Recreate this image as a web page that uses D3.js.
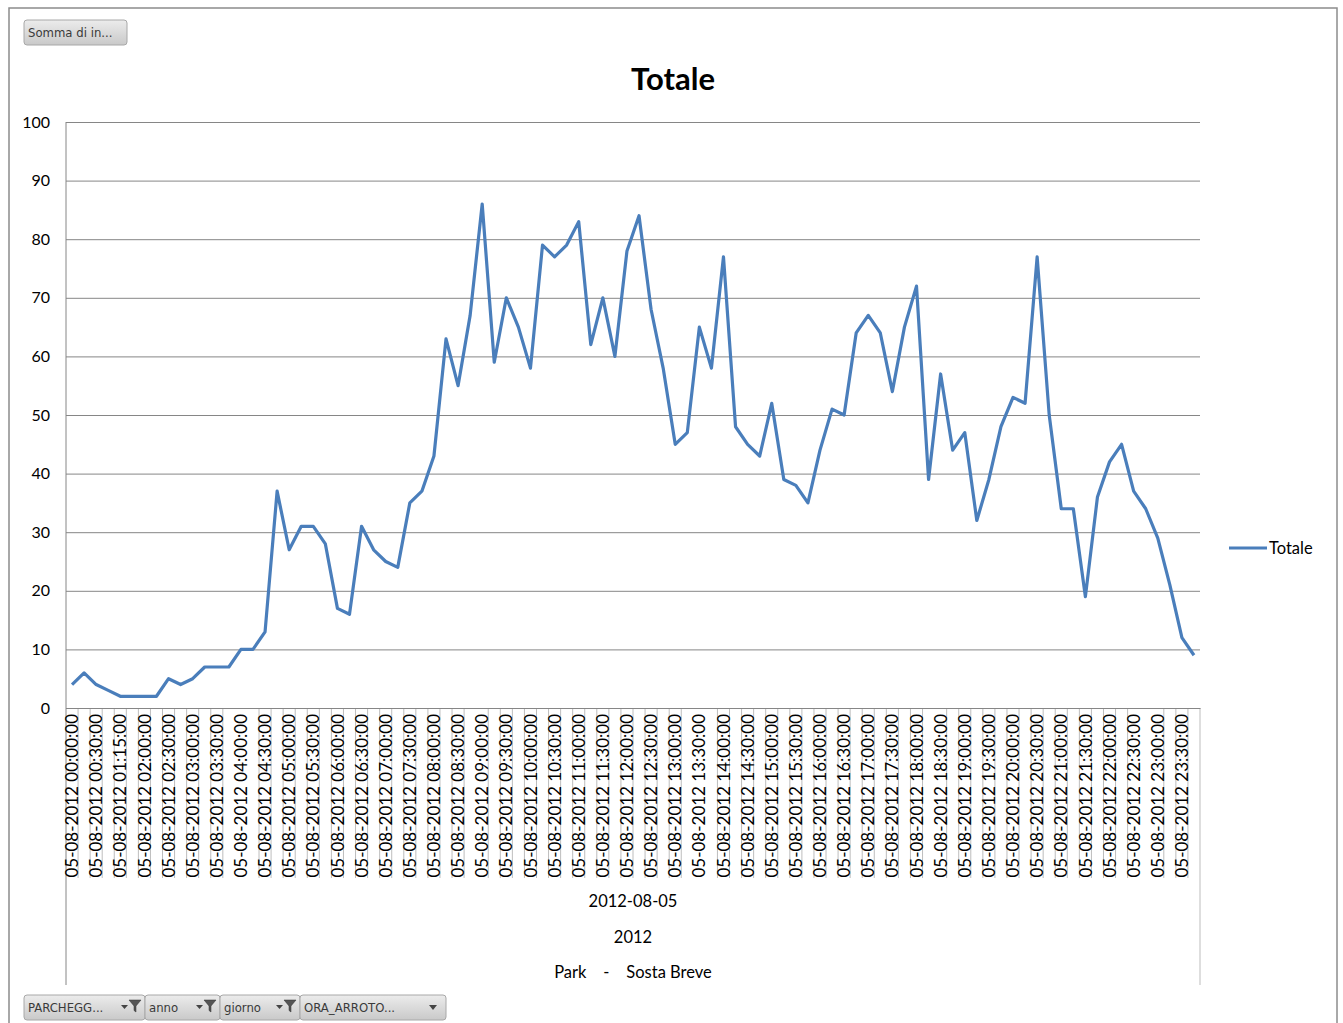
<!DOCTYPE html>
<html>
<head>
<meta charset="utf-8">
<script src="https://cdn.jsdelivr.net/npm/d3@7"></script>
<style>
body { margin: 0; background: #fff; }
svg { display: block; font-family: Lato, 'Open Sans', sans-serif; }
</style>
</head>
<body>
<script>
var day = '05-08-2012';
var times = [
  '00:00:00','00:15:00','00:30:00','00:45:00','01:15:00','01:30:00',
  '02:00:00','02:15:00','02:30:00','02:45:00','03:00:00','03:15:00','03:30:00','03:45:00',
  '04:00:00','04:15:00','04:30:00','04:45:00','05:00:00','05:15:00','05:30:00','05:45:00',
  '06:00:00','06:15:00','06:30:00','06:45:00','07:00:00','07:15:00','07:30:00','07:45:00',
  '08:00:00','08:15:00','08:30:00','08:45:00','09:00:00','09:15:00','09:30:00','09:45:00',
  '10:00:00','10:15:00','10:30:00','10:45:00','11:00:00','11:15:00','11:30:00','11:45:00',
  '12:00:00','12:15:00','12:30:00','12:45:00','13:00:00','13:15:00','13:30:00','13:45:00',
  '14:00:00','14:15:00','14:30:00','14:45:00','15:00:00','15:15:00','15:30:00','15:45:00',
  '16:00:00','16:15:00','16:30:00','16:45:00','17:00:00','17:15:00','17:30:00','17:45:00',
  '18:00:00','18:15:00','18:30:00','18:45:00','19:00:00','19:15:00','19:30:00','19:45:00',
  '20:00:00','20:15:00','20:30:00','20:45:00','21:00:00','21:15:00','21:30:00','21:45:00',
  '22:00:00','22:15:00','22:30:00','22:45:00','23:00:00','23:15:00','23:30:00','23:45:00'
];
var totale = [
  4, 6, 4, 3, 2, 2, 2, 2, 5, 4,
  5, 7, 7, 7, 10, 10, 13, 37, 27, 31,
  31, 28, 17, 16, 31, 27, 25, 24, 35, 37,
  43, 63, 55, 67, 86, 59, 70, 65, 58, 79,
  77, 79, 83, 62, 70, 60, 78, 84, 68, 58,
  45, 47, 65, 58, 77, 48, 45, 43, 52, 39,
  38, 35, 44, 51, 50, 64, 67, 64, 54, 65,
  72, 39, 57, 44, 47, 32, 39, 48, 53, 52,
  77, 50, 34, 34, 19, 36, 42, 45, 37, 34,
  29, 21, 12, 9
];
var yTicks = [0, 10, 20, 30, 40, 50, 60, 70, 80, 90, 100];
var levels = ['2012-08-05', '2012', 'Park    -    Sosta Breve'];
var fieldButtons = ['PARCHEGG...', 'anno', 'giorno', 'ORA_ARROTO...'];
var hasFilter = [true, true, true, false];
// category separators Excel left out
var missingSeps = [14, 15, 34, 52, 53, 72, 89, 90];

var blue = '#4a7ebb';
var svg = d3.select('body').append('svg').attr('width', 1343).attr('height', 1023);

var grad = svg.append('defs').append('linearGradient').attr('id', 'btn').attr('x1', 0).attr('y1', 0).attr('x2', 0).attr('y2', 1);
grad.append('stop').attr('offset', '0%').attr('stop-color', '#ececec');
grad.append('stop').attr('offset', '100%').attr('stop-color', '#c9c9c9');

// chart area border
svg.append('rect').attr('x', 9).attr('y', 8).attr('width', 1328).attr('height', 1030)
  .attr('fill', '#fff').attr('stroke', '#8c8c8c').attr('stroke-width', 1.5);

var x = d3.scaleBand().domain(times).range([66, 1200]);
var y = d3.scaleLinear().domain([0, 100]).range([708, 122]);

// gridlines + y labels
var yAxis = d3.axisLeft(y).tickValues(yTicks).tickSize(-1134).tickPadding(16);
var gy = svg.append('g').attr('transform', 'translate(66,0)').call(yAxis);
gy.select('.domain').remove();
gy.selectAll('.tick line').attr('stroke', '#868686').attr('stroke-width', 1);
gy.selectAll('.tick text').attr('font-size', 16).attr('fill', '#000').attr('font-family', 'Lato');

// vertical axis lines incl. the label area
svg.append('line').attr('x1', 66).attr('x2', 66).attr('y1', 122).attr('y2', 985).attr('stroke', '#868686');
svg.append('line').attr('x1', 1200).attr('x2', 1200).attr('y1', 708).attr('y2', 985).attr('stroke', '#bdbdbd');

// category separators
var seps = d3.range(1, times.length).filter(function (k) { return missingSeps.indexOf(k) < 0; });
svg.append('g').selectAll('line').data(seps).enter().append('line')
  .attr('x1', function (k) { return x(times[k]); })
  .attr('x2', function (k) { return x(times[k]); })
  .attr('y1', 708).attr('y2', 878)
  .attr('stroke', '#bdbdbd').attr('stroke-width', 1);

// x axis labels, every second category
var xAxis = d3.axisBottom(x)
  .tickValues(times.filter(function (d, i) { return i % 2 === 0; }))
  .tickSize(0)
  .tickFormat(function (d) { return day + ' ' + d; });
var gx = svg.append('g').attr('transform', 'translate(0,708)').call(xAxis);
gx.select('.domain').attr('stroke', '#868686');
gx.selectAll('.tick text')
  .attr('font-size', 17).attr('fill', '#000').attr('font-family', 'Lato')
  .attr('text-anchor', 'end')
  .attr('transform', 'rotate(-90)')
  .attr('x', -6).attr('y', 0).attr('dy', '0.36em');

// outer level labels
svg.append('g').selectAll('text').data(levels).enter().append('text')
  .attr('x', 633).attr('y', function (d, i) { return 907 + i * 35.5; })
  .attr('text-anchor', 'middle').attr('font-size', 16.5)
  .style('white-space', 'pre')
  .text(function (d) { return d; });

// series line
var line = d3.line()
  .x(function (d, i) { return x(times[i]) + x.bandwidth() / 2; })
  .y(function (d) { return y(d); });
svg.append('path').attr('d', line(totale)).attr('fill', 'none')
  .attr('stroke', blue).attr('stroke-width', 3.2).attr('stroke-linejoin', 'round');

// title
svg.append('text').attr('x', 673).attr('y', 90).attr('text-anchor', 'middle')
  .attr('font-size', 31).attr('font-weight', 'bold').text('Totale');

// legend
svg.append('line').attr('x1', 1229).attr('x2', 1267).attr('y1', 548).attr('y2', 548)
  .attr('stroke', blue).attr('stroke-width', 3.2);
svg.append('text').attr('x', 1269).attr('y', 554).attr('font-size', 16.5).text('Totale');

// pivot field buttons
function button(x0, y0, w, h, label) {
  var g = svg.append('g').attr('transform', 'translate(' + x0 + ',' + y0 + ')');
  g.append('rect').attr('width', w).attr('height', h).attr('rx', 3)
    .attr('fill', 'url(#btn)').attr('stroke', '#a8a8a8');
  g.append('text').attr('x', 4).attr('y', h / 2).attr('dy', '0.35em')
    .attr('font-size', 13).attr('fill', '#3a3a3a')
    .attr('font-family', "'DejaVu Sans Condensed', 'Liberation Sans Narrow', sans-serif")
    .text(label);
  return g;
}
button(24, 20, 103, 25, 'Somma di in...');

var bw = [121, 75, 80, 146];
var bx = 24;
fieldButtons.forEach(function (lab, i) {
  var g = button(bx, 995, bw[i], 25, lab);
  var w = bw[i];
  if (hasFilter[i]) {
    g.append('path').attr('d', 'M' + (w - 24) + ',10 h7 l-3.5,4 z').attr('fill', '#444');
    g.append('path').attr('d', 'M' + (w - 16) + ',5 h12 l-5,6 v6 l-2,-1.5 v-4.5 z')
      .attr('fill', '#555').attr('stroke', '#333').attr('stroke-width', 0.5);
  } else {
    g.append('path').attr('d', 'M' + (w - 17) + ',10 h8 l-4,5 z').attr('fill', '#444');
  }
  bx += w;
});
</script>
</body>
</html>
